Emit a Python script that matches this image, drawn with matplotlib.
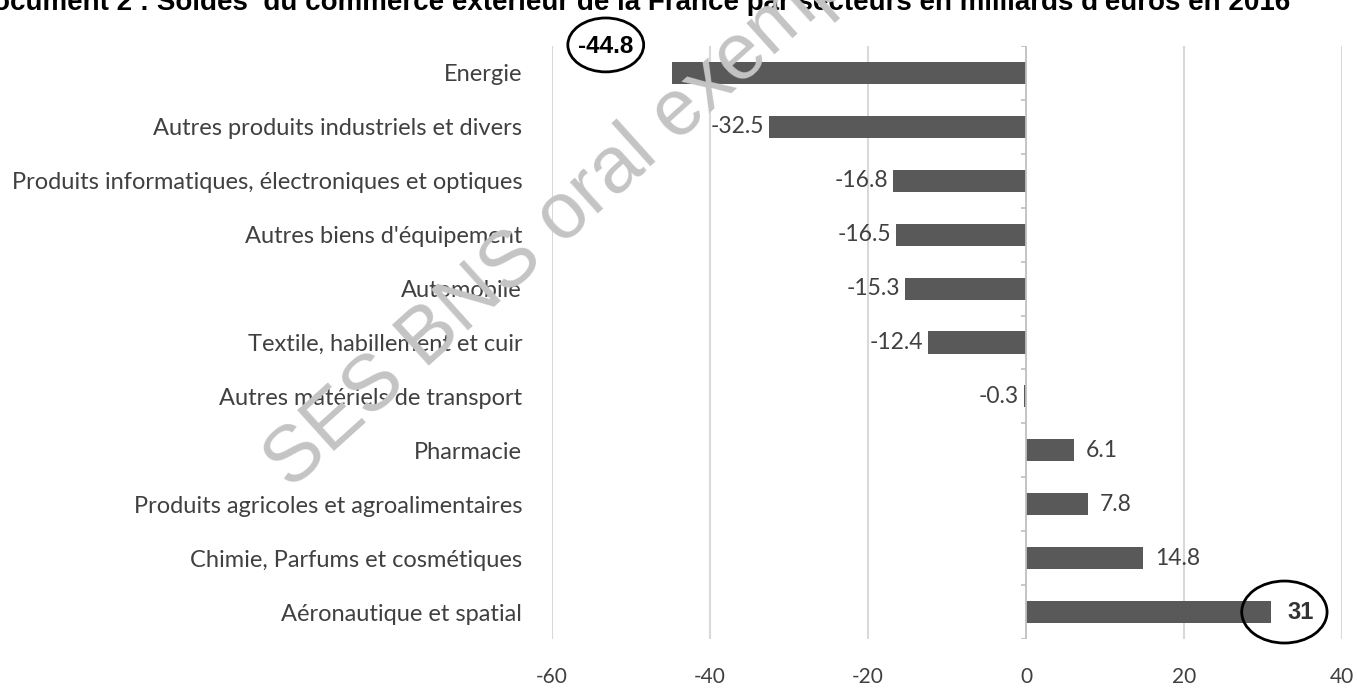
import matplotlib.pyplot as plt
from matplotlib.patches import Ellipse

secteurs = [
    "Energie",
    "Autres produits industriels et divers",
    "Produits informatiques, électroniques et optiques",
    "Autres biens d'équipement",
    "Automobile",
    "Textile, habillement et cuir",
    "Autres matériels de transport",
    "Pharmacie",
    "Produits agricoles et agroalimentaires",
    "Chimie, Parfums et cosmétiques",
    "Aéronautique et spatial",
]
soldes = [-44.8, -32.5, -16.8, -16.5, -15.3, -12.4, -0.3, 6.1, 7.8, 14.8, 31]
x_ticks = [-60, -40, -20, 0, 20, 40]

BAR = "#595959"
TXT = "#404040"
GRID = "#d9d9d9"

fig = plt.figure(figsize=(13.57, 6.95), dpi=100)
ax = fig.add_axes([0.4068, 0.0806, 0.5822, 0.8532])

pos = list(range(len(secteurs)))
ax.barh(pos, soldes, height=0.41, color=BAR, zorder=2)

ax.set_xlim(-60, 40)
ax.set_ylim(len(secteurs) - 0.5, -0.5)
ax.set_xticks(x_ticks)
ax.set_xticklabels([str(v) for v in x_ticks], fontsize=15, color=TXT, family="Lato")
ax.set_yticks(pos)
ax.set_yticklabels(secteurs, fontsize=17, color=TXT, family="Lato")
ax.tick_params(axis="both", length=0)
ax.tick_params(axis="x", pad=20)
ax.tick_params(axis="y", pad=21.5)
for s in ax.spines.values():
    s.set_visible(False)

# vertical grid + axis at zero
for v in x_ticks:
    if v != 0:
        ax.axvline(v, color=GRID, lw=1.5, zorder=0)
ax.axvline(0, color="#bfbfbf", lw=1.3, zorder=3)
bounds = [i - 0.5 for i in range(len(secteurs) + 1)]
ax.hlines(bounds, -0.7, 0, color="#bfbfbf", lw=1.2, zorder=3)

# value labels
for i, v in enumerate(soldes):
    if i == 0:
        continue
    if i == len(soldes) - 1:
        ax.annotate("31", (v, i), xytext=(12, 0), textcoords="offset points",
                    ha="left", va="center", fontsize=17, fontweight="bold",
                    color="#333333", family="Liberation Sans")
        continue
    if v < 0:
        ax.annotate(f"{v}", (v, i), xytext=(-3.5, 0), textcoords="offset points",
                    ha="right", va="center", fontsize=16.5, color=TXT, family="Lato")
    else:
        ax.annotate(f"{v}", (v, i), xytext=(8.5, 0), textcoords="offset points",
                    ha="left", va="center", fontsize=16.5, color=TXT, family="Lato")

# highlighted extremes
ax.text(-53.2, -0.5, "-44.8", ha="center", va="center", fontsize=17.5,
        fontweight="bold", color="black", family="Liberation Sans", zorder=5)
ax.add_patch(Ellipse((-53.2, -0.52), 9.6, 1.0, fill=False, ec="black", lw=2,
                     clip_on=False, zorder=5))
ax.add_patch(Ellipse((32.7, 10), 10.8, 1.15, fill=False, ec="black", lw=2,
                     clip_on=False, zorder=5))

# title (cut at the top in the original document)
fig.text(0.951, 0.9856, "Document 2 : Soldes  du commerce extérieur de la France par "
         "secteurs en milliards d'euros en 2016", ha="right", va="baseline",
         fontsize=20, fontweight="bold", family="Liberation Sans", color="black")

# watermark
fig.text(0.2145, 0.295, "SES BNS oral exemple", rotation=42, rotation_mode="anchor",
         ha="left", va="baseline", fontsize=57, color="#c4c4c4",
         family="Liberation Sans", zorder=10)

fig.savefig("out.png", dpi=100)
